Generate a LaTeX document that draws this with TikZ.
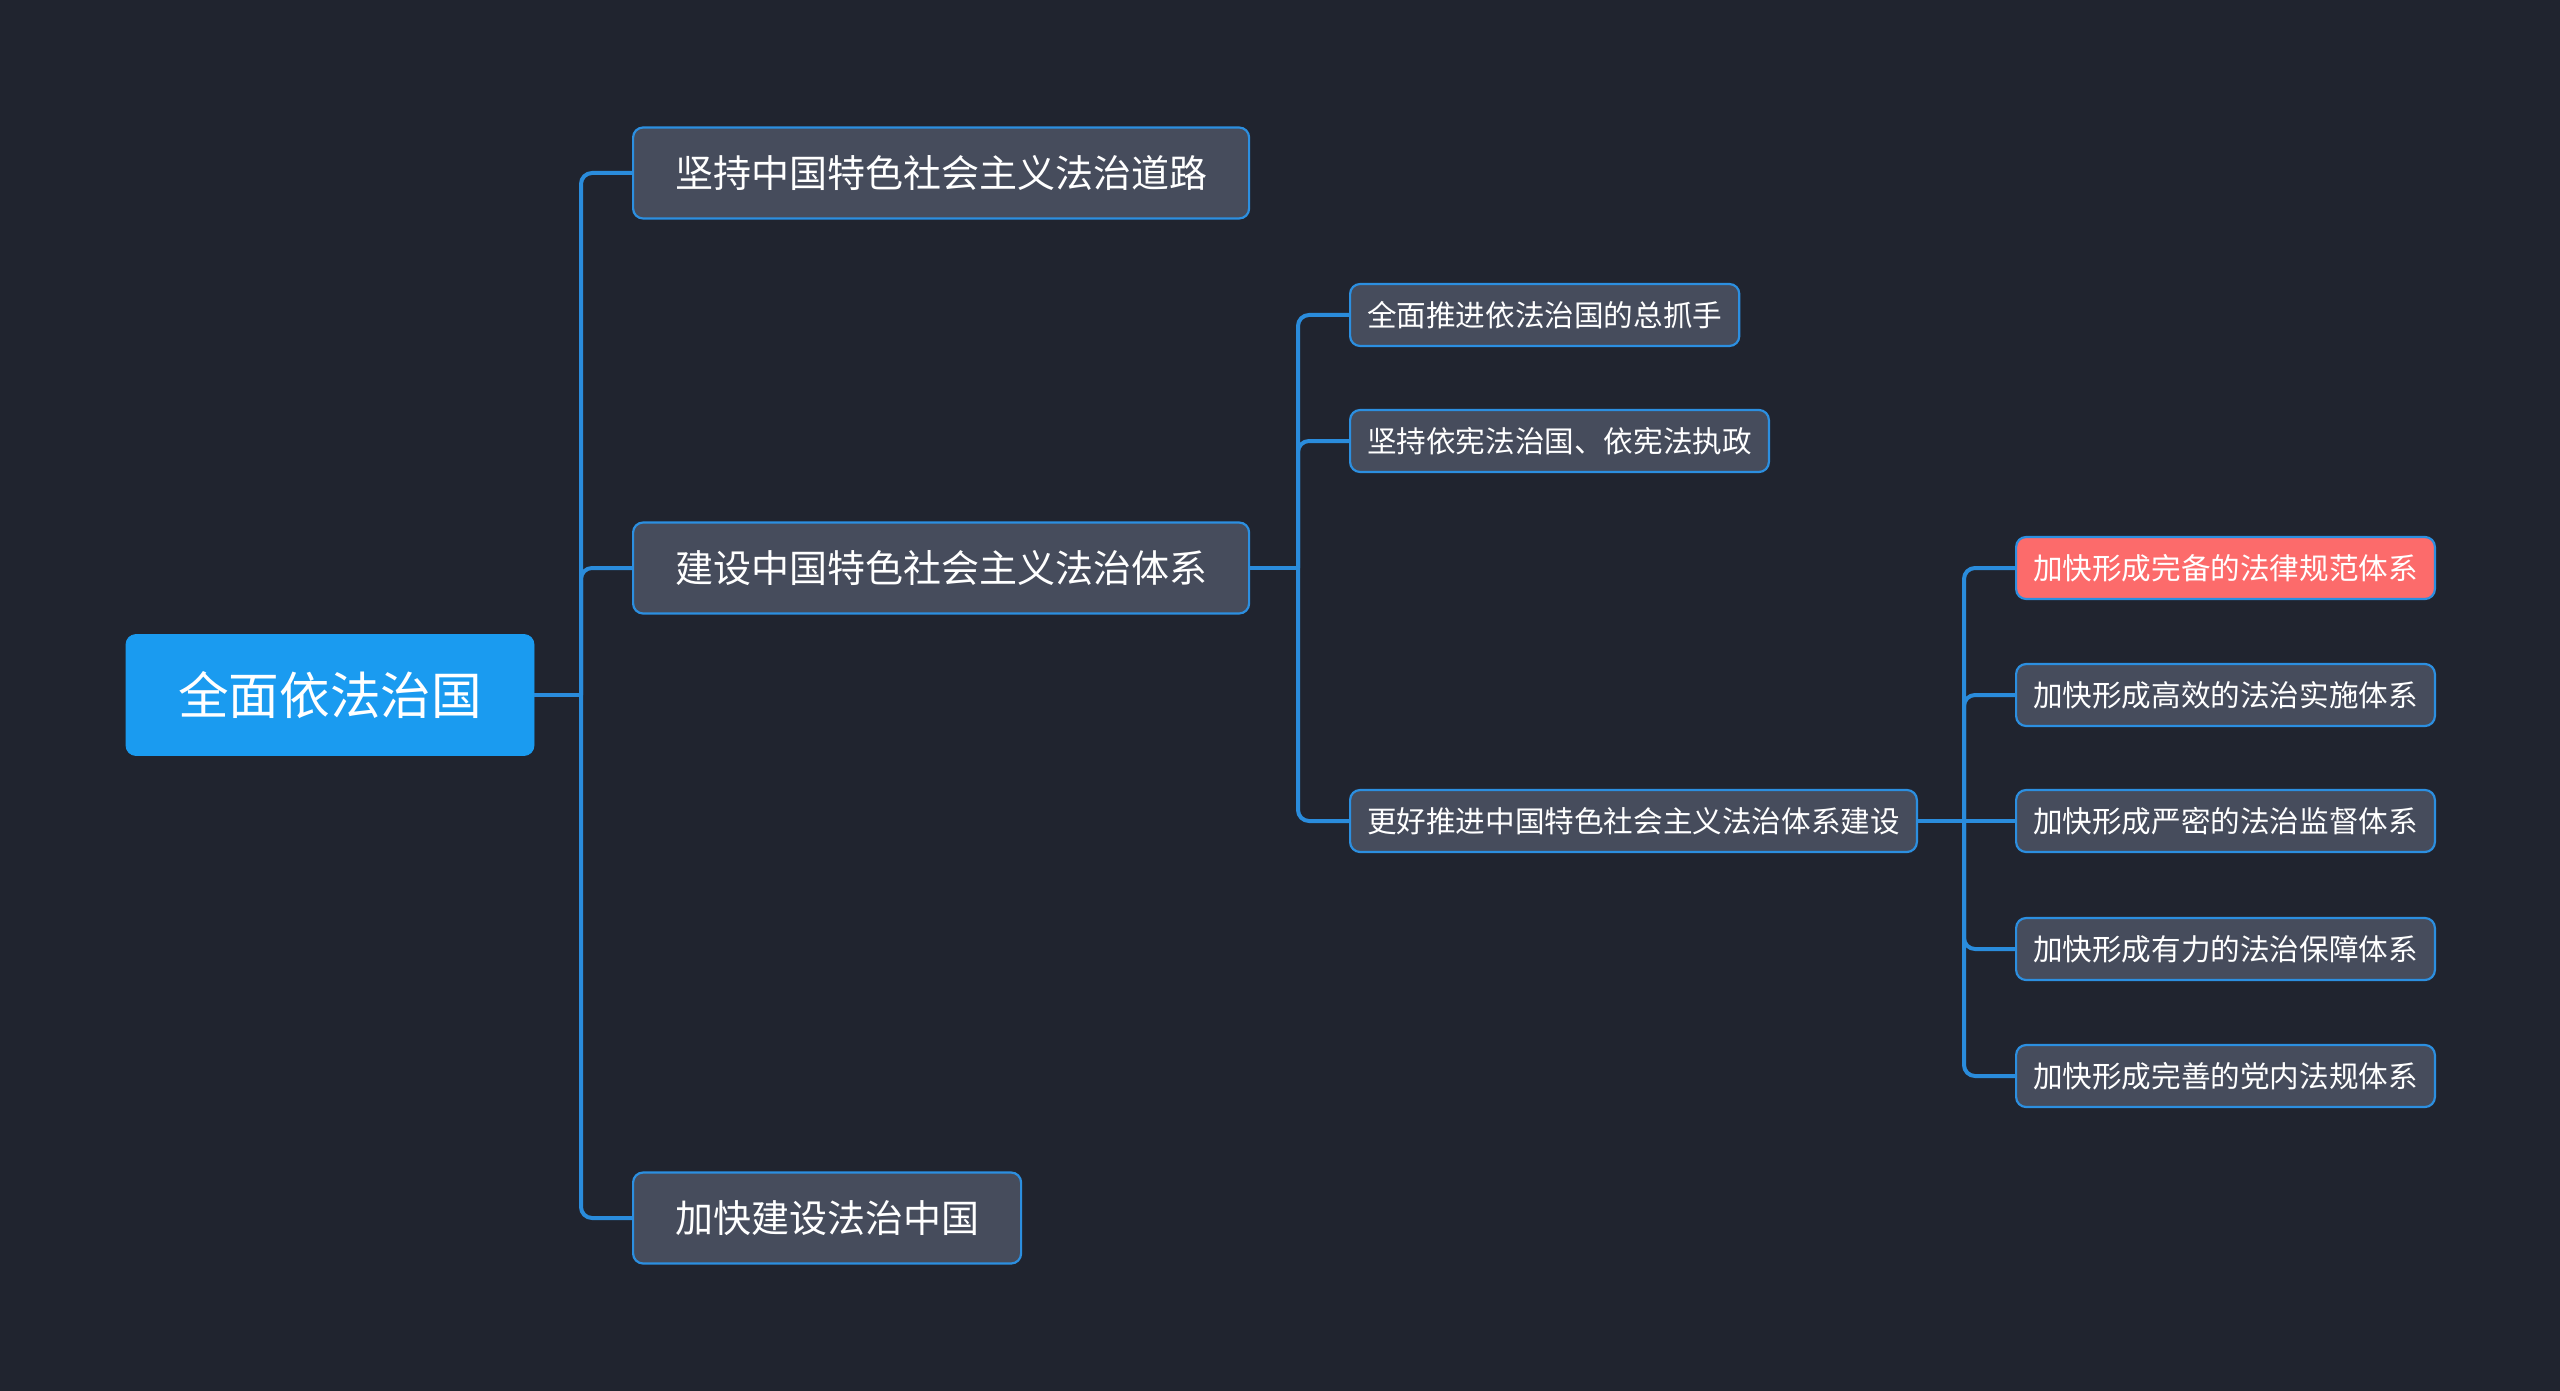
\documentclass[tikz,border=0pt]{standalone}
\usepackage{fontspec}
\setmainfont{Noto Sans CJK SC}
\usetikzlibrary{positioning}
\definecolor{bgdark}{HTML}{20242F}
\definecolor{boxfill}{HTML}{464C5C}
\definecolor{boxline}{HTML}{2C8FE0}
\definecolor{rootfill}{HTML}{1A9BF0}
\definecolor{hotfill}{HTML}{FC6B6B}
\definecolor{linkblue}{HTML}{2A8CDC}

\begin{document}
\begin{tikzpicture}[x=0.5pt, y=-0.5pt,
  box/.style = {draw=boxline, fill=boxfill, line width=1.1pt, rounded corners=5pt, text=white, anchor=west},
  big/.style = {box, font=\fontsize{19}{22}\selectfont, inner xsep=21pt, minimum height=45.5pt},
  small/.style = {box, font=\fontsize{14.8}{17}\selectfont, inner xsep=8.5pt, inner ysep=2pt, minimum height=31pt},
  link/.style = {draw=linkblue, line width=2pt, rounded corners=5.5pt}
]

% background
\fill[bgdark] (0,0) rectangle (2560,1391);

% root
\node[fill=rootfill, draw=rootfill, rounded corners=5pt, text=white, minimum width=204pt, minimum height=60.5pt, font=\fontsize{25.3}{30}\selectfont] (root) at (330,695) {全面依法治国};

% level 1
\node[big] (road)   at (632,173)  {坚持中国特色社会主义法治道路};
\node[big] (system) at (632,568)  {建设中国特色社会主义法治体系};
\node[big] (build)  at (632,1218) {加快建设法治中国};

% level 2
\node[small] (grip)   at (1349,315) {全面推进依法治国的总抓手};
\node[small] (const)  at (1349,441) {坚持依宪法治国、依宪法执政};
\node[small] (better) at (1349,821) {更好推进中国特色社会主义法治体系建设};

% level 3
\node[small, fill=hotfill] (code) at (2015,568)  {加快形成完备的法律规范体系};
\node[small] (act)   at (2015,695)  {加快形成高效的法治实施体系};
\node[small] (watch) at (2015,821)  {加快形成严密的法治监督体系};
\node[small] (guard) at (2015,949)  {加快形成有力的法治保障体系};
\node[small] (party) at (2015,1076) {加快形成完善的党内法规体系};

%--- root -> level 1 ---
\coordinate (t1) at (581,695);
\draw[link] (root.east) -- (t1);
\foreach \n in {road, system, build}
  \draw[link] (t1) |- (\n.west);

%--- system -> level 2 ---
\coordinate (t2) at (1298,568);
\draw[link] (system.east) -- (t2);
\foreach \n in {grip, const, better}
  \draw[link] (t2) |- (\n.west);

%--- better -> level 3 ---
\coordinate (t3) at (1964,821);
\draw[link] (better.east) -- (watch.west);
\foreach \n in {code, act, guard, party}
  \draw[link] (t3) |- (\n.west);

\end{tikzpicture}
\end{document}
